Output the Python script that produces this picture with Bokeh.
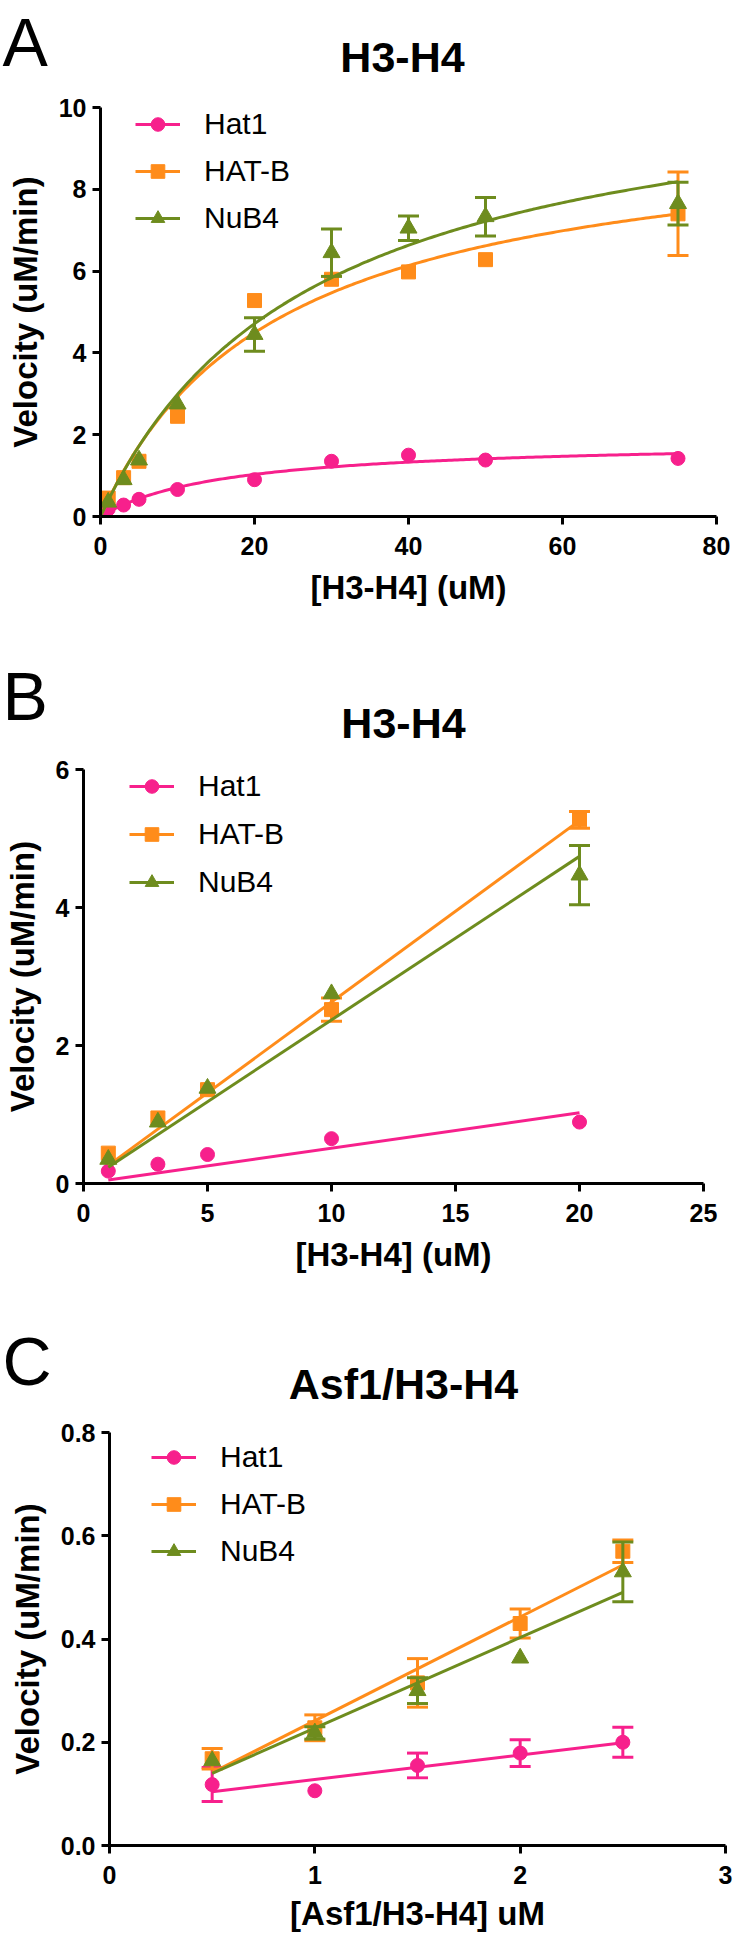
import numpy as np
from bokeh.plotting import figure
from bokeh.models import Range1d, FixedTicker, Label, Legend, LegendItem, PrintfTickFormatter
from bokeh.layouts import column
from bokeh.embed import file_html
from bokeh.resources import INLINE

FONT = "Liberation Sans"
SERIES = ["Hat1", "HAT-B", "NuB4"]
COLORS = ["#F7208C", "#FF8C1A", "#6E8C1E"]
MARKERS = ["circle", "square", "triangle"]
MSIZES = [14, 14, 17]

# ---------------- Panel A : H3-H4 (Michaelis-Menten) ----------------
a_x = [1, 3, 5, 10, 20, 30, 40, 50, 75]
a_hat1 = [0.18, 0.28, 0.42, 0.66, 0.90, 1.35, 1.50, 1.38, 1.42]
a_hat1_err = [0, 0, 0, 0, 0, 0, 0, 0, 0]
a_hatb = [0.45, 0.95, 1.35, 2.45, 5.28, 5.80, 5.98, 6.28, 7.40]
a_hatb_err = [0, 0, 0, 0, 0, 0, 0, 0, 1.02]
a_nub4 = [0.35, 0.90, 1.38, 2.75, 4.45, 6.45, 7.05, 7.33, 7.65]
a_nub4_err = [0, 0, 0, 0, 0.41, 0.58, 0.30, 0.47, 0.52]
a_xticks = [0, 20, 40, 60, 80]
a_yticks = [0, 2, 4, 6, 8, 10]

# ---------------- Panel B : H3-H4 (low range, linear) ----------------
b_x = [1, 3, 5, 10, 20]
b_hat1 = [0.18, 0.28, 0.42, 0.65, 0.89]
b_hat1_err = [0, 0, 0, 0, 0]
b_hatb = [0.44, 0.95, 1.36, 2.52, 5.27]
b_hatb_err = [0, 0, 0, 0.17, 0.12]
b_nub4 = [0.35, 0.89, 1.38, 2.75, 4.47]
b_nub4_err = [0, 0, 0, 0, 0.43]
b_xticks = [0, 5, 10, 15, 20, 25]
b_yticks = [0, 2, 4, 6]

# ---------------- Panel C : Asf1/H3-H4 (linear) ----------------
c_x = [0.5, 1.0, 1.5, 2.0, 2.5]
c_hat1 = [0.118, 0.106, 0.155, 0.179, 0.200]
c_hat1_err = [0.033, 0, 0.024, 0.026, 0.029]
c_hatb = [0.168, 0.228, 0.315, 0.430, 0.570]
c_hatb_err = [0.020, 0.025, 0.047, 0.028, 0.022]
c_nub4 = [0.164, 0.218, 0.300, 0.363, 0.530]
c_nub4_err = [0, 0.012, 0.025, 0, 0.058]
c_xticks = [0, 1, 2, 3]
c_yticks = [0.0, 0.2, 0.4, 0.6, 0.8]

PAGE_W = 734  # canvas width of every figure
TITLE_PX = 43
LETTER_PX = 68


def no_align(p):
    try:
        p.frame_align = False
    except AttributeError:
        pass


def fit_mm(x, y):
    x = np.asarray(x, float); y = np.asarray(y, float)
    best = None
    for km in np.arange(0.5, 200, 0.05):
        g = x / (km + x)
        vmax = (g @ y) / (g @ g)
        sse = np.sum((y - vmax * g) ** 2)
        if best is None or sse < best[0]:
            best = (sse, km, vmax)
    _, km, vmax = best
    xs = np.linspace(0, x.max(), 200)
    return xs, vmax * xs / (km + xs)


def fit_origin(x, y):
    x = np.asarray(x, float); y = np.asarray(y, float)
    k = (x @ y) / (x @ x)
    xs = np.array([x.min(), x.max()])
    return xs, k * xs


def fit_linear(x, y):
    x = np.asarray(x, float); y = np.asarray(y, float)
    m, b = np.polyfit(x, y, 1)
    xs = np.array([x.min(), x.max()])
    return xs, m * xs + b


def make_header(letter, title, top, bottom, title_cx, title_y, letter_y):
    H = bottom - top
    h = figure(frame_width=PAGE_W, frame_height=H,
               x_range=Range1d(0, PAGE_W), y_range=Range1d(H, 0),
               x_axis_type=None, y_axis_type=None,
               min_border_left=0, min_border_right=0, min_border_top=0, min_border_bottom=0,
               output_backend="svg", toolbar_location=None)
    no_align(h)
    h.outline_line_color = None
    h.add_layout(Label(x=title_cx - 8, y=title_y, text=title,
                       text_align="center", text_baseline="alphabetic",
                       text_font=FONT, text_font_style="bold",
                       text_font_size=f"{TITLE_PX}px", text_color="black"))
    h.add_layout(Label(x=2, y=letter_y, text=letter,
                       text_align="left", text_baseline="alphabetic",
                       text_font=FONT, text_font_size=f"{LETTER_PX}px", text_color="black"))
    return h


def make_panel(xlabel, x, ys, errs, fit, xr, yr, xticks, yticks,
               fl, ft, fw, fh, fig_top, fig_bottom, leg_x, leg_top, leg_spacing,
               yfmt=None, xlabel_standoff=11):
    p = figure(frame_width=fw, frame_height=fh,
               min_border_left=fl - 8, min_border_right=PAGE_W - (fl - 8) - fw,
               min_border_top=ft - fig_top, min_border_bottom=fig_bottom - (ft + fh),
               x_range=Range1d(*xr), y_range=Range1d(*yr),
               output_backend="svg", toolbar_location=None)
    no_align(p)
    p.xgrid.visible = False
    p.ygrid.visible = False
    p.outline_line_color = None

    p.xaxis.ticker = FixedTicker(ticks=xticks)
    p.yaxis.ticker = FixedTicker(ticks=yticks)
    if yfmt:
        p.yaxis.formatter = PrintfTickFormatter(format=yfmt)
    p.xaxis.axis_label = xlabel
    p.yaxis.axis_label = "Velocity (uM/min)"
    for ax in p.axis:
        ax.axis_line_width = 3
        ax.axis_line_color = "black"
        ax.major_tick_line_width = 3
        ax.major_tick_line_color = "black"
        ax.major_tick_out = 8
        ax.major_tick_in = 0
        ax.minor_tick_line_color = None
        ax.major_label_text_font = FONT
        ax.major_label_text_font_style = "bold"
        ax.major_label_text_font_size = "25px"
        ax.major_label_text_color = "black"
        ax.axis_label_text_font = FONT
        ax.axis_label_text_font_style = "bold"
        ax.axis_label_text_font_size = "33px"
        ax.axis_label_text_color = "black"
    p.xaxis.major_label_standoff = 12
    p.yaxis.major_label_standoff = 6
    p.xaxis.axis_label_standoff = xlabel_standoff
    p.yaxis.axis_label_standoff = 12

    items = []
    for name, yv, ev, col, mk, ms in zip(SERIES, ys, errs, COLORS, MARKERS, MSIZES):
        fx, fy = fit(x, yv)
        lr = p.line(fx, fy, line_color=col, line_width=3)
        xa = np.asarray(x, float); ya = np.asarray(yv, float); ea = np.asarray(ev, float)
        m = ea > 0
        if m.any():
            p.segment(x0=xa[m], y0=ya[m] - ea[m], x1=xa[m], y1=ya[m] + ea[m],
                      line_color=col, line_width=3)
            p.scatter(np.concatenate([xa[m], xa[m]]),
                      np.concatenate([ya[m] - ea[m], ya[m] + ea[m]]),
                      marker="dash", size=21, line_color=col, line_width=3)
        sr = p.scatter(xa, ya, marker=mk, size=ms, fill_color=col, line_color=col)
        items.append(LegendItem(label=name, renderers=[lr, sr]))

    item_h = 34
    leg_h = 3 * item_h + 2 * leg_spacing
    legend = Legend(items=items, location=(leg_x, fh - (leg_top - ft) - leg_h),
                    padding=0, margin=0, spacing=leg_spacing, glyph_width=45,
                    glyph_height=item_h, label_height=item_h, label_standoff=24,
                    label_text_font=FONT, label_text_font_size="30px",
                    label_text_color="black",
                    border_line_color=None, background_fill_alpha=0)
    p.add_layout(legend)
    return p


hA = make_header("A", "H3-H4", top=8, bottom=93, title_cx=410, title_y=56, letter_y=41)
pA = make_panel("[H3-H4] (uM)", a_x, [a_hat1, a_hatb, a_nub4],
                [a_hat1_err, a_hatb_err, a_nub4_err], fit_mm, (0, 80), (0, 10),
                a_xticks, a_yticks, fl=108, ft=115, fw=616, fh=409, fig_top=93, fig_bottom=650,
                leg_x=35, leg_top=115, leg_spacing=13)

hB = make_header("B", "H3-H4", top=650, bottom=755, title_cx=411, title_y=80, letter_y=53)
pB = make_panel("[H3-H4] (uM)", b_x, [b_hat1, b_hatb, b_nub4],
                [b_hat1_err, b_hatb_err, b_nub4_err], fit_origin, (0, 25), (0, 6),
                b_xticks, b_yticks, fl=91, ft=777, fw=620, fh=414, fig_top=755, fig_bottom=1300,
                leg_x=46, leg_top=777, leg_spacing=14)

hC = make_header("C", "Asf1/H3-H4", top=1300, bottom=1418, title_cx=411, title_y=91, letter_y=68)
pC = make_panel("[Asf1/H3-H4] uM", c_x, [c_hat1, c_hatb, c_nub4],
                [c_hat1_err, c_hatb_err, c_nub4_err], fit_linear, (0, 3), (0, 0.8),
                c_xticks, c_yticks, fl=117, ft=1440, fw=616, fh=413, fig_top=1418, fig_bottom=1948,
                leg_x=42, leg_top=1448, leg_spacing=13, yfmt="%.1f", xlabel_standoff=8)

layout = column(hA, pA, hB, pB, hC, pC, spacing=0)
open("out.html", "w").write(file_html(layout, INLINE))
